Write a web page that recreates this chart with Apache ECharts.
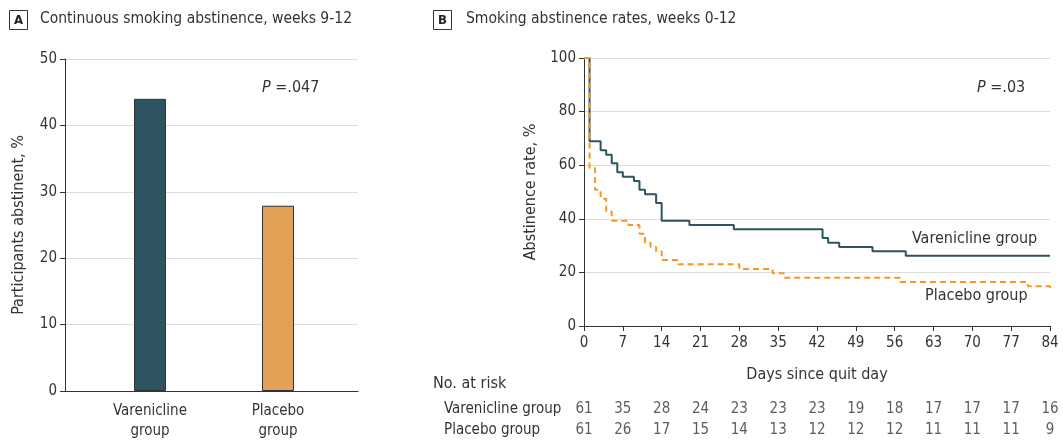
<!DOCTYPE html>
<html><head><meta charset="utf-8">
<script src="https://cdn.jsdelivr.net/npm/echarts@6/dist/echarts.min.js"></script>
<style>html,body{margin:0;padding:0;background:#fff}#c{width:1063px;height:441px}</style>
</head><body><div id="c"></div>
<script>
const FONT = "'Liberation Sans Narrow','DejaVu Sans Condensed',sans-serif";
const TXT = '#333';

// Panel A
const barCategories = ['Varenicline group', 'Placebo group'];
const barLabels = ['Varenicline\ngroup', 'Placebo\ngroup'];
const barValues = [44.0, 27.9];
const barColors = ['#2e5461', '#e2a157'];

// Panel B (Kaplan-Meier style steps: [day, rate %])
const dayTicks = [0, 7, 14, 21, 28, 35, 42, 49, 56, 63, 70, 77, 84];
const vareniclineCurve = [[0,100],[1,68.9],[3,65.6],[4,63.9],[5,60.7],[6,57.4],[7,55.7],[9,54.1],[10,50.8],[11,49.2],[13,45.9],[14,39.3],[19,37.7],[27,36.1],[43,32.8],[44,31.1],[46,29.5],[52,27.9],[58,26.2],[84,26.2]];
const placeboCurve = [[0,100],[1,59.0],[2,50.8],[3,47.5],[4,42.6],[5,39.3],[8,37.7],[10,34.4],[11,31.1],[12,29.5],[13,27.9],[14,24.6],[17,23.0],[28,21.3],[34,19.7],[36,18.0],[57,16.4],[80,14.8],[84,13.1]];

// Number at risk
const riskGroups = ['Varenicline group', 'Placebo group'];
const riskVarenicline = [61, 35, 28, 24, 23, 23, 23, 19, 18, 17, 17, 17, 16];
const riskPlacebo = [61, 26, 17, 15, 14, 13, 12, 12, 12, 11, 11, 11, 9];

const chart = echarts.init(document.getElementById('c'), null, {renderer: 'canvas'});

const axisLine = {show: true, lineStyle: {color: '#333', width: 1}};
const tickOut = {show: true, length: 5, lineStyle: {color: '#333'}};
const splitL = {show: true, lineStyle: {color: '#dcdcdc', width: 1}};
const lab = {color: TXT, fontFamily: FONT, fontSize: 15};

function panelLetter(x, y, letter) {
  return {type: 'group', left: x, top: y, children: [
    {type: 'rect', shape: {x: 0, y: 0, width: 18, height: 19}, style: {fill: '#fff', stroke: '#333', lineWidth: 1}},
    {type: 'text', x: 9, y: 10, style: {text: letter, fill: '#222', font: 'bold 13px ' + FONT, align: 'center', verticalAlign: 'middle'}}
  ]};
}

const riskData = [];
dayTicks.forEach((d, i) => {
  riskData.push([d, riskGroups[0], riskVarenicline[i]]);
  riskData.push([d, riskGroups[1], riskPlacebo[i]]);
});

chart.setOption({
  animation: false,
  textStyle: {fontFamily: FONT},
  grid: [
    {left: 65, top: 59, width: 293, height: 334},
    {left: 584, top: 58, width: 466, height: 268},
    {left: 584, top: 398.5, width: 466, height: 42}
  ],
  xAxis: [
    {gridIndex: 0, type: 'value', min: 0.336, max: 2.625, axisLine: axisLine, axisTick: {show: false}, splitLine: {show: false},
     axisLabel: Object.assign({}, lab, {customValues: [1, 2], margin: 10, lineHeight: 20,
       formatter: v => barLabels[Math.round(v) - 1] || ''})},
    {gridIndex: 1, type: 'value', min: 0, max: 84, interval: 7, axisLine: axisLine, axisTick: tickOut, splitLine: {show: false},
     axisLabel: Object.assign({}, lab, {margin: 10}),
     name: 'Days since quit day', nameLocation: 'middle', nameGap: 41, nameTextStyle: {color: TXT, fontFamily: FONT, fontSize: 16}},
    {gridIndex: 2, type: 'value', min: 0, max: 84, show: false}
  ],
  yAxis: [
    {gridIndex: 0, type: 'value', min: 0, max: 50, interval: 10, axisLine: axisLine, axisTick: tickOut, splitLine: splitL,
     axisLabel: Object.assign({}, lab, {margin: 8}),
     name: 'Participants abstinent, %', nameLocation: 'middle', nameGap: 38, nameTextStyle: {color: TXT, fontFamily: FONT, fontSize: 16}},
    {gridIndex: 1, type: 'value', min: 0, max: 100, interval: 20, axisLine: axisLine, axisTick: tickOut, splitLine: splitL,
     axisLabel: Object.assign({}, lab, {margin: 8}),
     name: 'Abstinence rate, %', nameLocation: 'middle', nameGap: 45, nameTextStyle: {color: TXT, fontFamily: FONT, fontSize: 16}},
    {gridIndex: 2, type: 'category', inverse: true, data: riskGroups, axisLine: {show: false}, axisTick: {show: false},
     axisLabel: Object.assign({}, lab, {align: 'left', margin: 140})}
  ],
  series: [
    {type: 'bar', xAxisIndex: 0, yAxisIndex: 0, barWidth: 32,
     data: barValues.map((v, i) => ({value: [i + 1, v], name: barCategories[i],
       itemStyle: {color: barColors[i], borderColor: '#333', borderWidth: 1}}))},
    {type: 'line', xAxisIndex: 1, yAxisIndex: 1, step: 'end', symbol: 'none', data: vareniclineCurve,
     lineStyle: {color: '#2e5461', width: 2}, z: 3},
    {type: 'line', xAxisIndex: 1, yAxisIndex: 1, step: 'end', symbol: 'none', data: placeboCurve,
     lineStyle: {color: '#f8961f', width: 2, type: [6, 4]}, z: 4},
    {type: 'scatter', xAxisIndex: 2, yAxisIndex: 2, symbolSize: 0, data: riskData,
     label: {show: true, position: 'inside', formatter: p => p.value[2], color: TXT, fontFamily: FONT, fontSize: 15}}
  ],
  graphic: [
    panelLetter(9, 10, 'A'),
    {type: 'text', left: 40, top: 11, style: {text: 'Continuous smoking abstinence, weeks 9-12', fill: TXT, font: '15.5px ' + FONT}},
    panelLetter(433, 10, 'B'),
    {type: 'text', left: 466, top: 11, style: {text: 'Smoking abstinence rates, weeks 0-12', fill: TXT, font: '15.5px ' + FONT}},
    {type: 'text', left: 262, top: 80, style: {text: '{i|P} =.047', fill: TXT, font: '16px ' + FONT,
      rich: {i: {fontStyle: 'italic', fontFamily: FONT, fontSize: 16, fill: TXT}}}},
    {type: 'text', left: 977, top: 80, style: {text: '{i|P} =.03', fill: TXT, font: '16px ' + FONT,
      rich: {i: {fontStyle: 'italic', fontFamily: FONT, fontSize: 16, fill: TXT}}}},
    {type: 'text', left: 912, top: 231, style: {text: 'Varenicline group', fill: TXT, font: '16px ' + FONT}},
    {type: 'text', left: 925, top: 288, style: {text: 'Placebo group', fill: TXT, font: '16px ' + FONT}},
    {type: 'text', left: 433, top: 376, style: {text: 'No. at risk', fill: TXT, font: '16px ' + FONT}}
  ]
});
</script></body></html>
